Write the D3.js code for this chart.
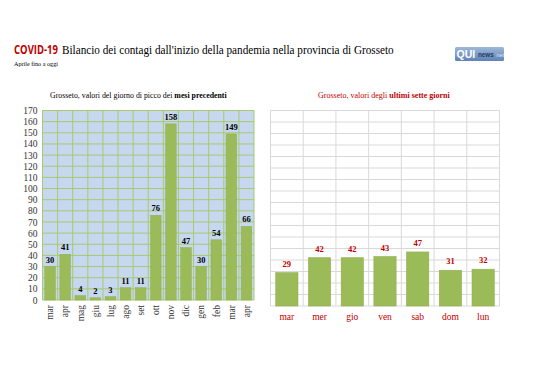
<!DOCTYPE html>
<html><head><meta charset="utf-8">
<script src="https://cdn.jsdelivr.net/npm/d3@7/dist/d3.min.js"></script>
<style>body{margin:0;background:#fff}svg{display:block}</style>
</head><body>
<svg id="c" width="538" height="380"></svg>
<script>
const monthLabels = ["mar","apr","mag","giu","lug","ago","set","ott","nov","dic","gen","feb","mar","apr"];
const monthValues = [30,41,4,2,3,11,11,76,158,47,30,54,149,66];
const dayLabels = ["mar","mer","gio","ven","sab","dom","lun"];
const dayValues = [29,42,42,43,47,31,32];
const yTicks = d3.range(0,171,10);

const svg = d3.select("#c");
const serif = "'Liberation Serif','DejaVu Serif',serif";
const red = "#c00000";
const green = "#9bbb59";

// scale a text horizontally (via transform) so it spans width w starting at x0
function squeeze(sel, x0, y0, w){
  const cur = sel.node().getComputedTextLength();
  sel.attr("x",0).attr("y",0).attr("transform",`translate(${x0},${y0}) scale(${w/cur},1)`);
}
function fitWidth(sel, w){
  const n = sel.node();
  const cur = n.getComputedTextLength();
  const fs = parseFloat(sel.attr("font-size"));
  sel.attr("font-size", fs*w/cur);
}

// Title
svg.append("text")
  .attr("font-family","'Open Sans','Liberation Sans',sans-serif").attr("font-weight","bold")
  .attr("font-size",12.5).attr("fill",red).text("COVID-19").call(squeeze,14,54,44);
svg.append("text").attr("font-family",serif).attr("font-size",13.5).attr("fill","#000")
  .text("Bilancio dei contagi dall'inizio della pandemia nella provincia di Grosseto").call(squeeze,62,54,332);
svg.append("text").attr("x",14).attr("y",66).attr("font-family",serif).attr("font-size",7).text("Aprile fino a oggi").call(fitWidth,44);

// Logo
const lg = svg.append("g").attr("transform","translate(455,47)");
const grad = svg.append("defs").append("linearGradient").attr("id","lg").attr("x1",0).attr("y1",0).attr("x2",0).attr("y2",1);
grad.append("stop").attr("offset","0").attr("stop-color","#9fb8d8");
grad.append("stop").attr("offset","1").attr("stop-color","#5f82b5");
lg.append("rect").attr("width",49).attr("height",14).attr("rx",1.5).attr("fill","url(#lg)");
lg.append("text").attr("x",1.5).attr("y",11).attr("font-family","'Liberation Sans',sans-serif").attr("font-weight","bold")
  .attr("font-size",10.5).attr("fill","#fff").text("QUI");
lg.append("text").attr("x",23).attr("y",10).attr("font-family","'Liberation Sans',sans-serif").attr("font-weight","bold")
  .attr("font-size",6.3).attr("fill","#1f3a66").text("news");
lg.append("text").attr("x",41.5).attr("y",10).attr("font-family","'Liberation Sans',sans-serif")
  .attr("font-size",5.3).attr("fill","#dfe8f5").text("net");

// Left chart
{
  const L=42.5, R=254, T=110.5, B=300;
  const xb = d3.scaleBand().domain(d3.range(monthLabels.length)).range([L,R]).paddingInner(0.3).paddingOuter(0.15);
  const y = d3.scaleLinear().domain([0,170]).range([B,T]);
  const g = svg.append("g");
  g.append("rect").attr("x",L).attr("y",T).attr("width",R-L).attr("height",B-T).attr("fill","#c6d7f0");
  g.selectAll(".hg").data(yTicks).join("line").attr("x1",L).attr("x2",R)
    .attr("y1",d=>y(d)).attr("y2",d=>y(d)).attr("stroke","#a9c96b").attr("stroke-width",1);
  const bounds = d3.range(monthLabels.length+1).map(i=>L+i*(R-L)/monthLabels.length);
  g.selectAll(".vg").data(bounds).join("line").attr("y1",T).attr("y2",B)
    .attr("x1",d=>d).attr("x2",d=>d).attr("stroke","#a9c96b").attr("stroke-width",1);
  g.selectAll(".bar").data(monthValues).join("rect")
    .attr("x",(d,i)=>xb(i)).attr("width",xb.bandwidth())
    .attr("y",d=>y(d)).attr("height",d=>B-y(d)).attr("fill",green).attr("stroke","#8fae4f").attr("stroke-width",0.5);
  g.selectAll(".vl").data(monthValues).join("text")
    .attr("x",(d,i)=>xb(i)+xb.bandwidth()/2).attr("y",d=>y(d)-4).attr("text-anchor","middle")
    .attr("font-family",serif).attr("font-weight","bold").attr("font-size",8.5).text(d=>d);
  const ya = g.append("g").attr("transform",`translate(${L},0)`).call(d3.axisLeft(y).tickValues(yTicks).tickSize(0).tickPadding(5));
  ya.select(".domain").remove();
  ya.selectAll("text").attr("font-family",serif).attr("font-size",9.5).attr("fill","#333");
  const xa = g.append("g").attr("transform",`translate(0,${B})`).call(d3.axisBottom(xb).tickSize(0).tickFormat(i=>monthLabels[i]));
  xa.select(".domain").remove();
  xa.selectAll("text").attr("font-family",serif).attr("font-size",9.5).attr("fill","#333")
    .attr("transform","rotate(-90)").attr("text-anchor","end").attr("dy","0.35em").attr("x",-5).attr("y",0);
  const ttl = g.append("text").attr("x",50).attr("y",98).attr("font-family",serif).attr("font-size",7.8);
  ttl.append("tspan").text("Grosseto, valori del giorno di picco dei ");
  ttl.append("tspan").attr("font-weight","bold").text("mesi precedenti");
  fitWidth(ttl,177);
}

// Right chart
{
  const L=270.5, R=499.5, T=110.5, B=306;
  const xb = d3.scaleBand().domain(d3.range(dayLabels.length)).range([L,R]).paddingInner(0.32).paddingOuter(0.16);
  const y = d3.scaleLinear().domain([0,170]).range([B,T]);
  const g = svg.append("g");
  g.selectAll(".hg").data(yTicks).join("line").attr("x1",L).attr("x2",R)
    .attr("y1",d=>y(d)).attr("y2",d=>y(d)).attr("stroke","#d9d9d9");
  const bounds = d3.range(dayLabels.length+1).map(i=>L+i*(R-L)/dayLabels.length);
  g.selectAll(".vg").data(bounds).join("line").attr("y1",T).attr("y2",B)
    .attr("x1",d=>d).attr("x2",d=>d).attr("stroke","#d9d9d9");
  g.selectAll(".bar").data(dayValues).join("rect")
    .attr("x",(d,i)=>xb(i)).attr("width",xb.bandwidth())
    .attr("y",d=>y(d)).attr("height",d=>B-y(d)).attr("fill",green).attr("stroke","#8fae4f").attr("stroke-width",0.6);
  g.selectAll(".vl").data(dayValues).join("text")
    .attr("x",(d,i)=>xb(i)+xb.bandwidth()/2).attr("y",d=>y(d)-6).attr("text-anchor","middle")
    .attr("font-family",serif).attr("font-weight","bold").attr("font-size",8.5).attr("fill",red).text(d=>d);
  const xa = g.append("g").attr("transform",`translate(0,${B})`).call(d3.axisBottom(xb).tickSize(0).tickPadding(7).tickFormat(i=>dayLabels[i]));
  xa.select(".domain").remove();
  xa.selectAll("text").attr("font-family",serif).attr("font-size",9.5).attr("fill",red);
  const ttl = g.append("text").attr("x",318).attr("y",98).attr("font-family",serif).attr("font-size",7.8).attr("fill",red);
  ttl.append("tspan").text("Grosseto, valori degli ");
  ttl.append("tspan").attr("font-weight","bold").text("ultimi sette giorni");
  fitWidth(ttl,132);
}
</script>
</body></html>
